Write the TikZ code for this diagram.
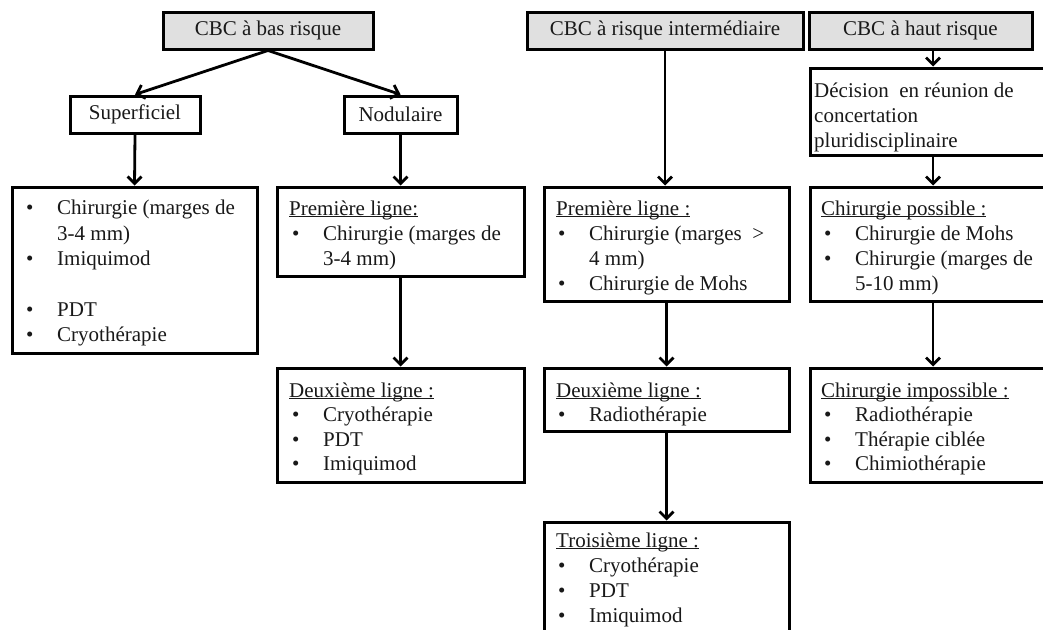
\documentclass[tikz,border=0pt]{standalone}
\usepackage{fontspec}
\setmainfont{Liberation Serif}
\usetikzlibrary{arrows.meta}
\tikzset{
  box/.style={draw=black, line width=3pt, rectangle, inner sep=0pt, fill=white},
  head/.style={box, fill=gray!24},
  lbl/.style={font=\fontsize{21}{25}\selectfont, text=black!90},
  txt/.style={lbl, anchor=base west, inner sep=0pt},
  arr/.style={line width=2.8pt, -{Straight Barb[length=7pt,width=14pt,line width=2.8pt]}},
}
\newcommand{\bx}[7]{%
  \node[#6, minimum width={(#4-#2)*1pt}, minimum height={(#5-#3)*1pt}, lbl] (#1) at ({(#2+#4)/2},{(#3+#5)/2}) {#7};}
\newcommand{\itm}{\makebox[31pt][l]{\textbullet}}
\newcommand{\ul}[1]{\underline{\smash{#1}}}
\begin{document}
\begin{tikzpicture}[x=1pt,y=-1pt]
\clip (0,0) rectangle (1043,629);
\fill[white] (0,0) rectangle (1043,629);
% top boxes
\bx{b1}{163}{12}{373}{49}{head}{CBC à bas risque}
\bx{b3}{527}{12}{803}{49}{head}{CBC à risque intermédiaire}
\bx{b4}{809}{12}{1032}{49}{head}{CBC à haut risque}
% second level
\bx{s}{70}{96}{200}{133}{box}{Superficiel}
\bx{n}{344}{96}{457}{133}{box}{Nodulaire}
\bx{d4}{810}{68}{1056}{155}{box}{}
% column 1
\bx{c1}{12}{187}{257}{353}{box}{}
% column 2
\bx{c2a}{277}{187}{524}{276}{box}{}
\bx{c2b}{277}{368}{524}{482}{box}{}
% column 3
\bx{c3a}{544}{187}{789}{301}{box}{}
\bx{c3b}{544}{368}{789}{431}{box}{}
\bx{c3c}{544}{522}{789}{680}{box}{}
% column 4
\bx{c4a}{810}{187}{1056}{301}{box}{}
\bx{c4b}{810}{368}{1056}{482}{box}{}

% texts column 1
\node[txt] (c1l1) at (26,214) {\itm Chirurgie (marges de};
\node[txt] (c1l2) at (57,240) {3-4 mm)};
\node[txt] (c1l3) at (26,265) {\itm Imiquimod};
\node[txt] (c1l4) at (26,316) {\itm PDT};
\node[txt] (c1l5) at (26,341) {\itm Cryothérapie};
% column 2
\node[txt] (c2al0) at (289,215) {\ul{Première ligne:}};
\node[txt] (c2al1) at (292,240) {\itm Chirurgie (marges de};
\node[txt] (c2al2) at (323,265) {3-4 mm)};
\node[txt] (c2bl0) at (289,397) {\ul{Deuxième ligne :}};
\node[txt] (c2bl1) at (292,421) {\itm Cryothérapie};
\node[txt] (c2bl2) at (292,446) {\itm PDT};
\node[txt] (c2bl3) at (292,470) {\itm Imiquimod};
% column 3
\node[txt] (c3al0) at (556,215) {\ul{Première ligne :}};
\node[txt] (c3al1) at (558,240) {\itm Chirurgie (marges\ \ >};
\node[txt] (c3al2) at (589,265) {4 mm)};
\node[txt] (c3al3) at (558,290) {\itm Chirurgie de Mohs};
\node[txt] (c3bl0) at (556,397) {\ul{Deuxième ligne :}};
\node[txt] (c3bl1) at (558,421) {\itm Radiothérapie};
\node[txt] (c3cl0) at (556,547) {\ul{Troisième ligne :}};
\node[txt] (c3cl1) at (558,572) {\itm Cryothérapie};
\node[txt] (c3cl2) at (558,597) {\itm PDT};
\node[txt] (c3cl3) at (558,622) {\itm Imiquimod};
% column 4
\node[txt] (d4l1) at (814,97) {Décision\ \ en réunion de};
\node[txt] (d4l2) at (814,122) {concertation};
\node[txt] (d4l3) at (814,147) {pluridisciplinaire};
\node[txt] (c4al0) at (821,215) {\ul{Chirurgie possible :}};
\node[txt] (c4al1) at (824,240) {\itm Chirurgie de Mohs};
\node[txt] (c4al2) at (824,265) {\itm Chirurgie (marges de};
\node[txt] (c4al3) at (855,290) {5-10 mm)};
\node[txt] (c4bl0) at (821,397) {\ul{Chirurgie impossible :}};
\node[txt] (c4bl1) at (824,421) {\itm Radiothérapie};
\node[txt] (c4bl2) at (824,446) {\itm Thérapie ciblée};
\node[txt] (c4bl3) at (824,470) {\itm Chimiothérapie};

% connectors
\draw[arr] (b1.south) -- (s.north);
\draw[arr] (b1.south) -- (n.north);
\draw[arr] (s.south) -- (c1.north);
\draw[arr] (n.south) -- (c2a.north);
\draw[arr] (c2a.south) -- (c2b.north);
\draw[arr] (b3.south) -- (b3.south |- c3a.north);
\draw[arr] (c3a.south) -- (c3b.north);
\draw[arr] (c3b.south) -- (c3c.north);
\draw[arr] (b4.south -| d4.north) -- (d4.north);
\draw[arr] (d4.south) -- (c4a.north);
\draw[arr] (c4a.south) -- (c4b.north);
\end{tikzpicture}
\end{document}
